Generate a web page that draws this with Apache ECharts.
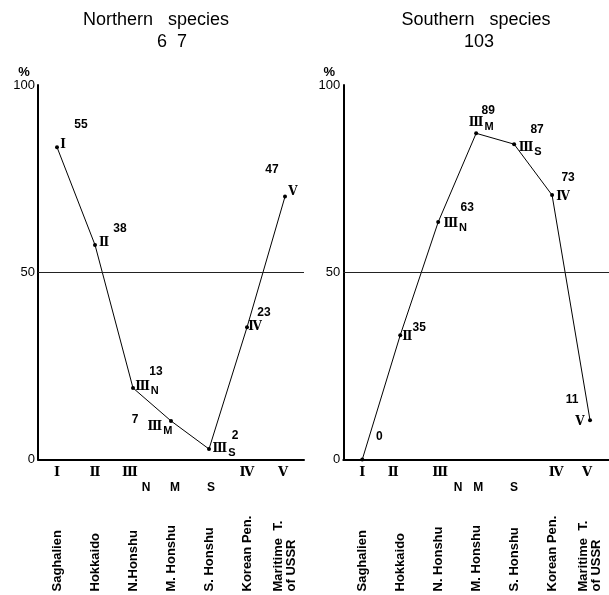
<!DOCTYPE html>
<html>
<head>
<meta charset="utf-8">
<script src="https://cdn.jsdelivr.net/npm/echarts@6/dist/echarts.min.js"></script>
<style>
html,body{margin:0;padding:0;background:#fff;}
#chart{width:609px;height:595px;}
</style>
</head>
<body>
<div id="chart"></div>
<script>
// ---- data ----
const northRegions = ['Saghalien', 'Hokkaido', 'N.Honshu', 'M. Honshu', 'S. Honshu', 'Korean Pen.', 'Maritime  T.\nof USSR'];
const southRegions = ['Saghalien', 'Hokkaido', 'N. Honshu', 'M. Honshu', 'S. Honshu', 'Korean Pen.', 'Maritime  T.\nof USSR'];
const axisZones = ['Ⅰ', 'Ⅱ', 'Ⅲ', '', '', 'Ⅳ', 'Ⅴ'];
const zoneSubs = ['', '', 'N', 'M', 'S', '', ''];
const northMarks = ['Ⅰ', 'Ⅱ', 'Ⅲ', 'Ⅲ', 'Ⅲ', 'Ⅳ', 'Ⅴ'];
const southMarks = ['', 'Ⅱ', 'Ⅲ', 'Ⅲ', 'Ⅲ', 'Ⅳ', 'Ⅴ'];
const northPct = [83.4, 57.3, 19.1, 10.3, 2.8, 35.3, 70.2];
const southPct = [0, 33.2, 63.4, 87.1, 84.2, 70.6, 10.5];
const northCount = [55, 38, 13, 7, 2, 23, 47];
const southCount = [0, 35, 63, 89, 87, 73, 11];
const northTotal = '6  7';
const southTotal = '103';
const yTicks = [0, 50, 100];

// ---- label placement (style only) ----
const northMarkOff = [[6,-2],[9,-2],[14,-1],[-11,6],[15,0],[8,0],[8,-5]];
const northCountOff = [[24,-22],[25,-16],[23,-16],[-36,-1],[26,-13],[17,-15],[-13,-27]];
const southMarkOff = [[0,0],[7,2],[17,2],[5,-10],[16,4],[11,2],[-10,2]];
const southCountOff = [[17,-23],[19,-7],[29,-14],[12,-23],[23,-14],[16,-17],[-18,-20]];
const northAxisShift = [0,0,-3,0,0,0,-2];
const southAxisShift = [0,-7,2,0,0,4,-3];
const northSubShift = [0,0,13,4,2,0,0];
const southSubShift = [0,0,20,2,0,0,0];

const romanFont = '"DejaVu Serif", serif';
const sansFont = '"Liberation Sans", Arial, sans-serif';

function shiftRich(shifts, style) {
  const rich = {};
  shifts.forEach((s, i) => {
    const pad = s >= 0 ? [0, 0, 0, 2 * s] : [0, -2 * s, 0, 0];
    rich['a' + i] = Object.assign({ padding: pad }, style);
  });
  return rich;
}

function gridAxes(gridIndex, regions, axisShift, subShift) {
  const romanStyle = { fontFamily: romanFont, fontSize: 13, fontWeight: 'bold', color: '#000' };
  const subStyle = { fontFamily: sansFont, fontSize: 12, fontWeight: 'bold', color: '#000' };
  return [
    {
      type: 'category', gridIndex, data: regions, boundaryGap: true, position: 'bottom',
      axisLine: { show: true, lineStyle: { color: '#000', width: 2 } },
      axisTick: { show: false },
      axisLabel: {
        interval: 0, margin: 7,
        formatter: (v, i) => axisZones[i] ? '{a' + i + '|' + axisZones[i] + '}' : '',
        rich: shiftRich(axisShift, romanStyle)
      }
    },
    {
      type: 'category', gridIndex, data: regions, boundaryGap: true, position: 'bottom',
      axisLine: { show: false }, axisTick: { show: false },
      axisLabel: {
        interval: 0, margin: 22,
        formatter: (v, i) => zoneSubs[i] ? '{a' + i + '|' + zoneSubs[i] + '}' : '',
        rich: shiftRich(subShift, subStyle)
      }
    },
    {
      type: 'category', gridIndex, data: regions, boundaryGap: true, position: 'bottom',
      axisLine: { show: false }, axisTick: { show: false },
      axisLabel: {
        interval: 0, margin: 132, rotate: 90, align: 'left', verticalAlign: 'middle',
        fontFamily: sansFont, fontSize: 13, fontWeight: 'bold', color: '#000', lineHeight: 13
      }
    }
  ];
}

function yAxisFor(gridIndex) {
  return {
    type: 'value', gridIndex, min: yTicks[0], max: yTicks[2], interval: yTicks[1] - yTicks[0],
    name: '%', nameLocation: 'end', nameGap: 6,
    nameTextStyle: { fontFamily: sansFont, fontSize: 13, fontWeight: 'bold', color: '#000', align: 'center', padding: [0, 28, 0, 0] },
    axisLine: { show: true, lineStyle: { color: '#000', width: 2 } },
    axisTick: { show: false },
    splitLine: { show: false },
    axisLabel: { margin: 3, fontFamily: sansFont, fontSize: 13, color: '#000' }
  };
}

function panelSeries(xIdx, yIdx, pct, marks, counts, markOff, countOff) {
  return [
    {
      type: 'line', xAxisIndex: xIdx, yAxisIndex: yIdx,
      data: pct.map((v, i) => ({ value: v, label: { offset: markOff[i] } })),
      symbol: 'circle', symbolSize: 4,
      itemStyle: { color: '#000' },
      lineStyle: { color: '#000', width: 1 },
      label: {
        show: true, position: 'inside', color: '#000',
        formatter: p => {
          const m = marks[p.dataIndex];
          if (!m) return '';
          const s = zoneSubs[p.dataIndex];
          return '{r|' + m + '}' + (s ? '{s|' + s + '}' : '');
        },
        rich: {
          r: { fontFamily: romanFont, fontSize: 12, fontWeight: 'bold', color: '#000' },
          s: { fontFamily: sansFont, fontSize: 11, fontWeight: 'bold', color: '#000', padding: [8, 0, 0, 1] }
        }
      },
      markLine: {
        silent: true, symbol: 'none', label: { show: false },
        lineStyle: { color: '#222', width: 1, type: 'solid' },
        data: [{ yAxis: 50 }]
      },
      z: 3
    },
    {
      type: 'scatter', xAxisIndex: xIdx, yAxisIndex: yIdx,
      data: pct.map((v, i) => ({ value: v, label: { offset: countOff[i] } })),
      symbolSize: 0, silent: true,
      itemStyle: { color: '#000', opacity: 1 },
      label: {
        show: true, position: 'inside', color: '#000',
        fontFamily: sansFont, fontSize: 12, fontWeight: 'bold',
        formatter: p => String(counts[p.dataIndex])
      }
    }
  ];
}

const chart = echarts.init(document.getElementById('chart'));
chart.setOption({
  backgroundColor: '#fff',
  animation: false,
  graphic: [
    { type: 'text', x: 156, y: 20, style: { text: 'Northern   species', font: '18px "Liberation Sans", Arial, sans-serif', align: 'center', verticalAlign: 'middle', fill: '#000' } },
    { type: 'text', x: 172, y: 42, style: { text: northTotal, font: '18px "Liberation Sans", Arial, sans-serif', align: 'center', verticalAlign: 'middle', fill: '#000' } },
    { type: 'text', x: 476, y: 20, style: { text: 'Southern   species', font: '18px "Liberation Sans", Arial, sans-serif', align: 'center', verticalAlign: 'middle', fill: '#000' } },
    { type: 'text', x: 479, y: 42, style: { text: southTotal, font: '18px "Liberation Sans", Arial, sans-serif', align: 'center', verticalAlign: 'middle', fill: '#000' } }
  ],
  grid: [
    { left: 38, top: 85, width: 266, height: 374.5 },
    { left: 343.3, top: 85, width: 266, height: 374.5 }
  ],
  xAxis: [].concat(
    gridAxes(0, northRegions, northAxisShift, northSubShift),
    gridAxes(1, southRegions, southAxisShift, southSubShift)
  ),
  yAxis: [yAxisFor(0), yAxisFor(1)],
  series: [].concat(
    panelSeries(0, 0, northPct, northMarks, northCount, northMarkOff, northCountOff),
    panelSeries(3, 1, southPct, southMarks, southCount, southMarkOff, southCountOff)
  )
});
</script>
</body>
</html>
